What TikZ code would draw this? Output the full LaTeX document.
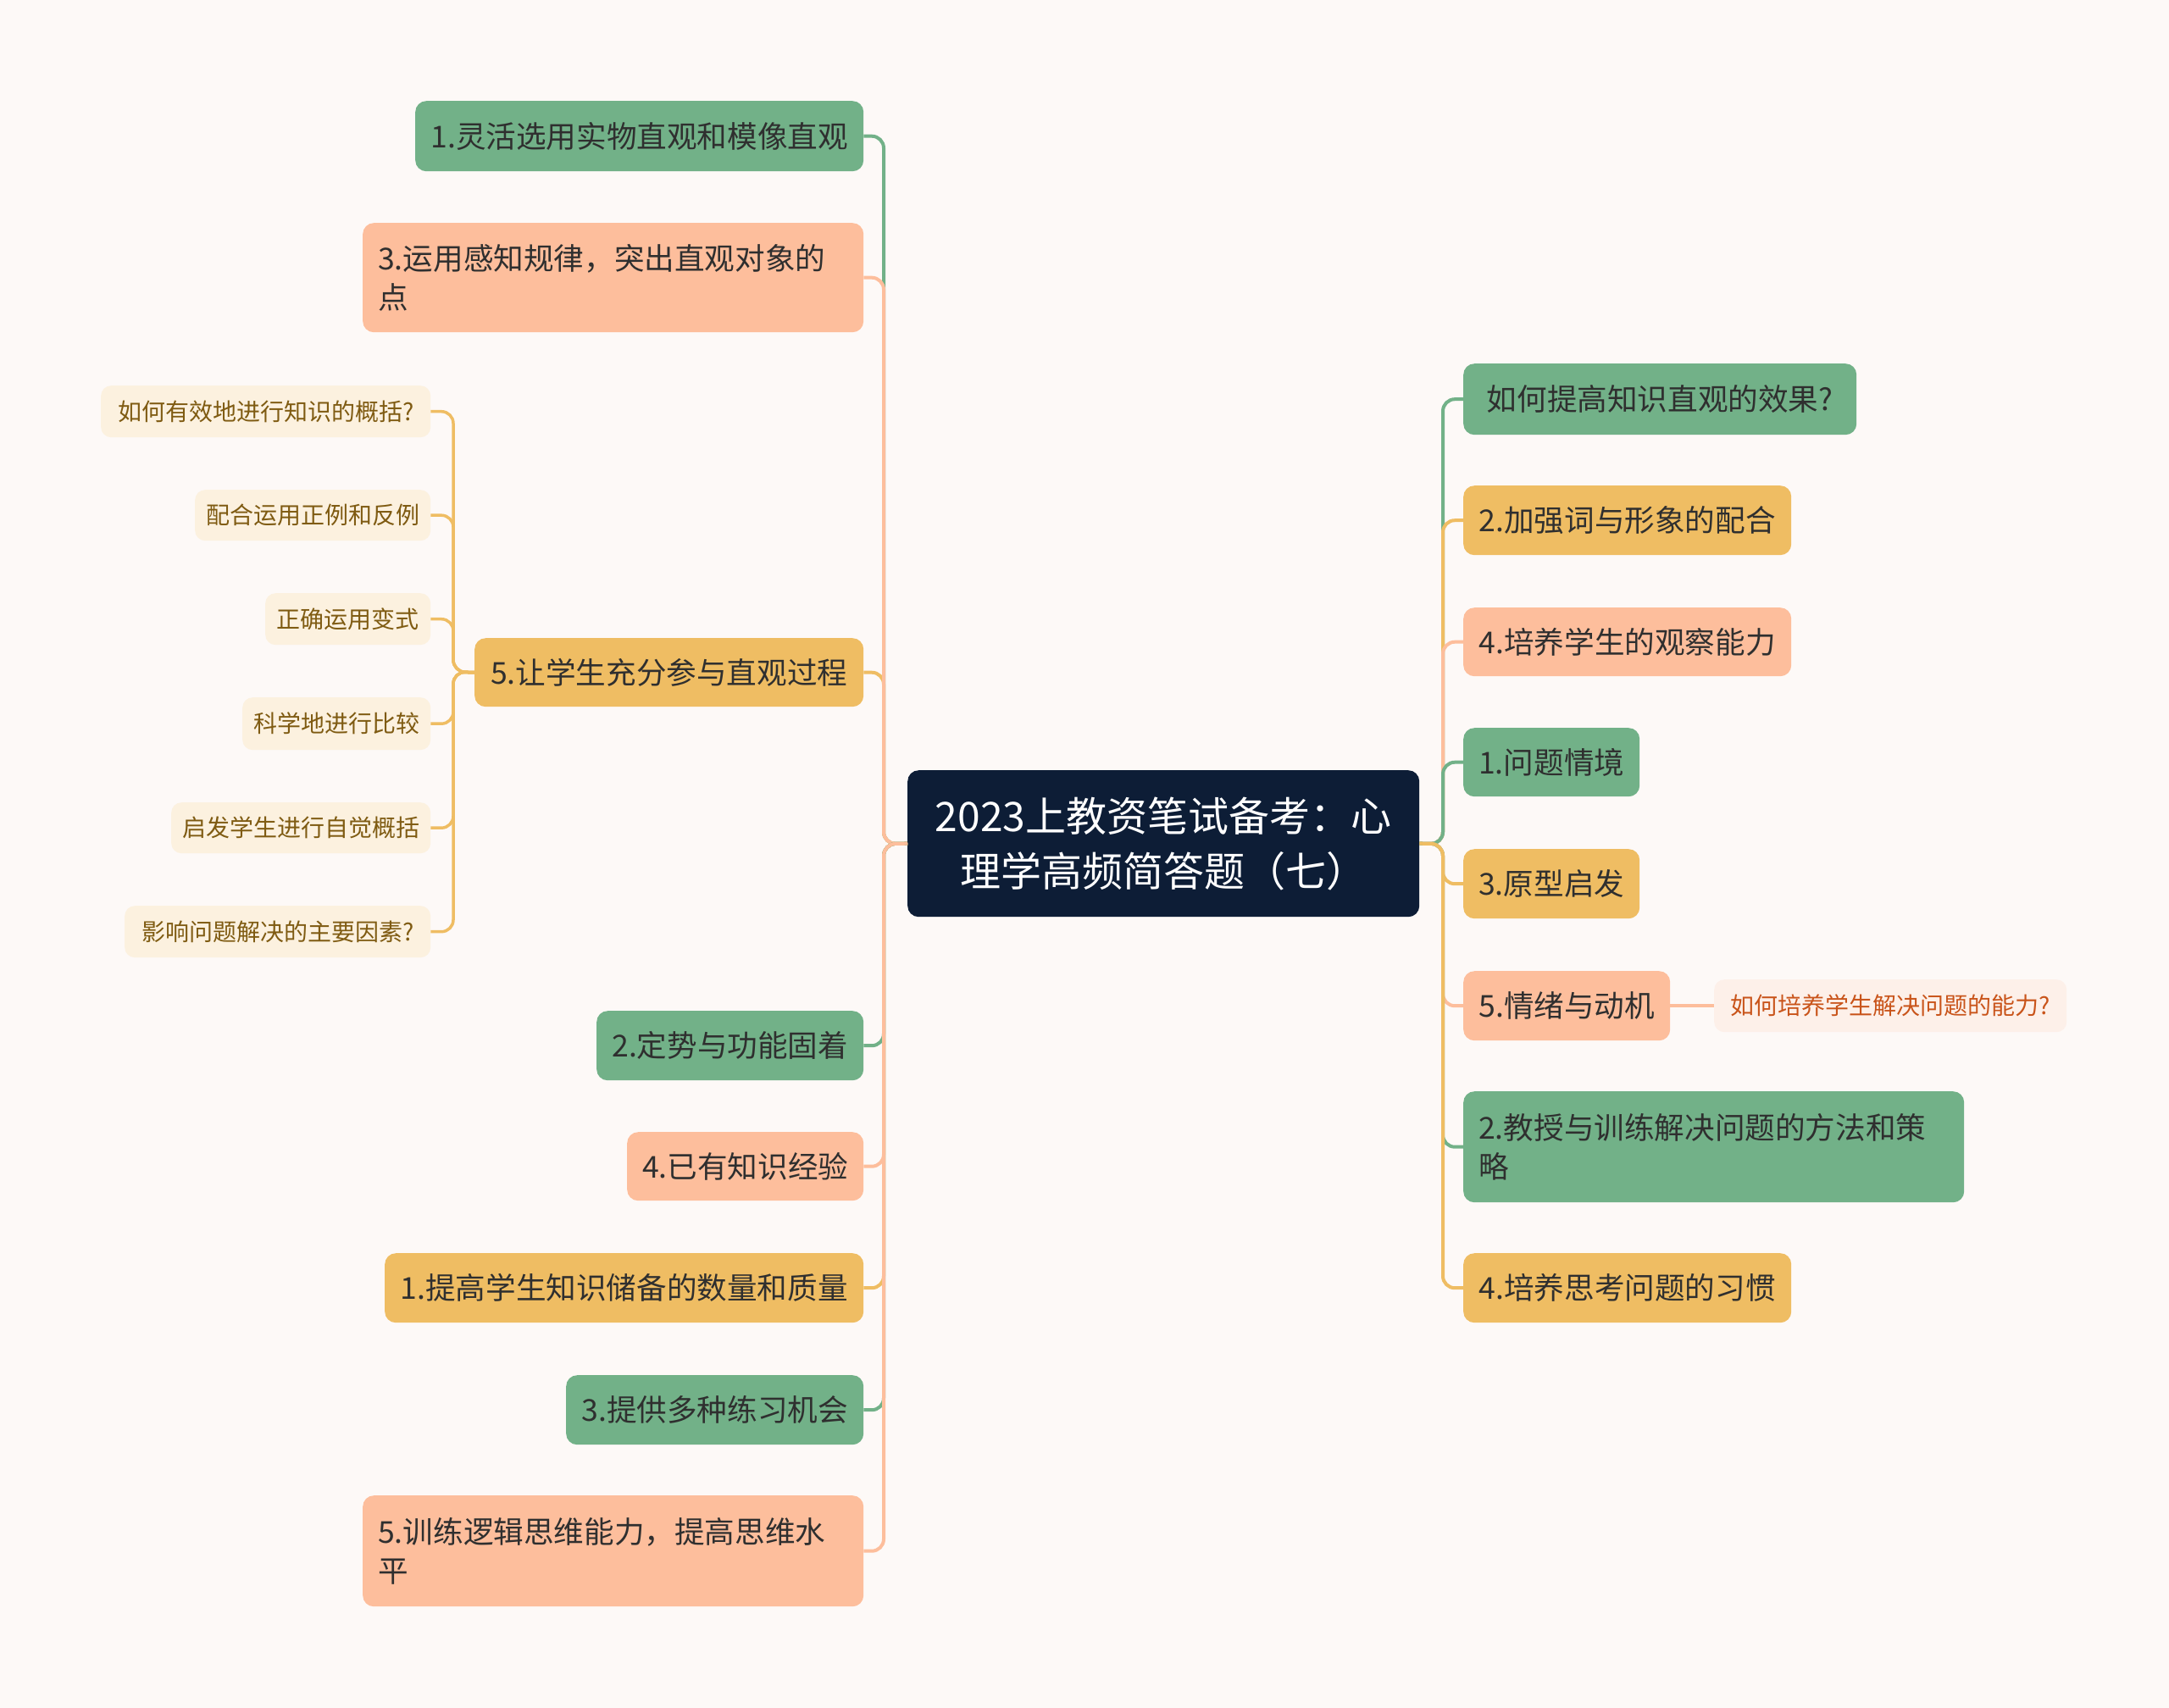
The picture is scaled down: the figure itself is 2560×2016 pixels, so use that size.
\documentclass[tikz,border=0pt]{standalone}
\usepackage{fontspec}
\setmainfont{Noto Sans CJK SC}
\definecolor{bg}{HTML}{FDF9F7}
\definecolor{cgreen}{HTML}{72B188}
\definecolor{cyellow}{HTML}{EFBD63}
\definecolor{csalmon}{HTML}{FDBE9C}
\definecolor{croot}{HTML}{0D1D36}
\definecolor{ctxt}{HTML}{2F2F2F}
\definecolor{lightY}{HTML}{FCF1DF}
\definecolor{lightS}{HTML}{FDF0E9}
\definecolor{subY}{HTML}{7F5B12}
\definecolor{subS}{HTML}{C9541A}
\begin{document}
\begin{tikzpicture}[x=1pt,y=-1pt,
  box/.style={rounded corners=13pt, inner sep=0pt, anchor=north west, text=ctxt,
    font=\fontsize{35.6}{46}\selectfont},
  gbox/.style={box, fill=cgreen},
  ybox/.style={box, fill=cyellow},
  sbox/.style={box, fill=csalmon},
  subbox/.style={rounded corners=12pt, inner sep=0pt, anchor=north west,
    font=\fontsize{28}{34}\selectfont},
  ysub/.style={subbox, fill=lightY, text=subY},
  ssub/.style={subbox, fill=lightS, text=subS},
  conn/.style={draw=#1, line width=4pt, rounded corners=14pt},
]
\fill[bg] (0,0) rectangle (2560,2016);
\useasboundingbox (0,0) rectangle (2560,2016);

% root
\node[rounded corners=13pt, inner sep=0pt, anchor=north west, fill=croot, text=white,
  minimum width=604, minimum height=173, align=center,
  font=\fontsize{48}{65}\selectfont] (root) at (1071,909)
  {2023上教资笔试备考：心\\理学高频简答题（七）};

% left main branches
\node[gbox, minimum width=529, minimum height=83] (L1) at (490,119) {1.灵活选用实物直观和模像直观};
\node[sbox, minimum width=591, minimum height=129, text width=555, align=left] (L2) at (428,263)
  {3.运用感知规律，突出直观对象的\\点};
\node[ybox, minimum width=459, minimum height=81] (L3) at (560,753) {5.让学生充分参与直观过程};
\node[gbox, minimum width=315, minimum height=82] (L4) at (704,1193) {2.定势与功能固着};
\node[sbox, minimum width=279, minimum height=81] (L5) at (740,1336) {4.已有知识经验};
\node[ybox, minimum width=565, minimum height=82] (L6) at (454,1479) {1.提高学生知识储备的数量和质量};
\node[gbox, minimum width=351, minimum height=82] (L7) at (668,1623) {3.提供多种练习机会};
\node[sbox, minimum width=591, minimum height=131, text width=555, align=left] (L8) at (428,1765)
  {5.训练逻辑思维能力，提高思维水\\平};

% sub-children of L3
\node[ysub, minimum width=389, minimum height=61] (La) at (119,455) {如何有效地进行知识的概括?};
\node[ysub, minimum width=278, minimum height=60] (Lb) at (230,578) {配合运用正例和反例};
\node[ysub, minimum width=195, minimum height=61] (Lc) at (313,700) {正确运用变式};
\node[ysub, minimum width=222, minimum height=62] (Ld) at (286,823) {科学地进行比较};
\node[ysub, minimum width=306, minimum height=60] (Le) at (202,947) {启发学生进行自觉概括};
\node[ysub, minimum width=361, minimum height=61] (Lf) at (147,1069) {影响问题解决的主要因素?};

% right main branches
\node[gbox, minimum width=464, minimum height=84] (R1) at (1727,429) {如何提高知识直观的效果?};
\node[ybox, minimum width=387, minimum height=82] (R2) at (1727,573) {2.加强词与形象的配合};
\node[sbox, minimum width=387, minimum height=81] (R3) at (1727,717) {4.培养学生的观察能力};
\node[gbox, minimum width=208, minimum height=81] (R4) at (1727,859) {1.问题情境};
\node[ybox, minimum width=208, minimum height=82] (R5) at (1727,1002) {3.原型启发};
\node[sbox, minimum width=244, minimum height=82] (R6) at (1727,1146) {5.情绪与动机};
\node[ssub, minimum width=416, minimum height=62] (R6c) at (2023,1156) {如何培养学生解决问题的能力?};
\node[gbox, minimum width=591, minimum height=131, text width=555, align=left] (R7) at (1727,1288)
  {2.教授与训练解决问题的方法和策\\略};
\node[ybox, minimum width=387, minimum height=82] (R8) at (1727,1479) {4.培养思考问题的习惯};

% left connectors
\coordinate (sl) at (1043,996);
\draw[conn=cgreen]  (root.west) -- (sl) |- (L1.east);
\draw[conn=cyellow] (root.west) -- (sl) |- (L3.east);
\draw[conn=csalmon] (root.west) -- (sl) |- (L2.east);
\draw[conn=cgreen]  (root.west) -- (sl) |- (L4.east);
\draw[conn=csalmon] (root.west) -- (sl) |- (L5.east);
\draw[conn=cyellow] (root.west) -- (sl) |- (L6.east);
\draw[conn=cgreen]  (root.west) -- (sl) |- (L7.east);
\draw[conn=csalmon] (root.west) -- (sl) |- (L8.east);

% L3 sub connectors
\coordinate (s3) at (535,793);
\foreach \c in {La,Lb,Lc,Ld,Le,Lf}
  \draw[conn=cyellow, line width=3.5pt] (L3.west) -- (s3) |- (\c.east);

% right connectors
\coordinate (sr) at (1703,996);
\draw[conn=cgreen]  (root.east) -- (sr) |- (R1.west);
\draw[conn=cyellow] (root.east) -- (sr) |- (R2.west);
\draw[conn=csalmon] (root.east) -- (sr) |- (R3.west);
\draw[conn=cgreen]  (root.east) -- (sr) |- (R4.west);
\draw[conn=cyellow] (root.east) -- (sr) |- (R5.west);
\draw[conn=csalmon] (root.east) -- (sr) |- (R6.west);
\draw[conn=cgreen]  (root.east) -- (sr) |- (R7.west);
\draw[conn=cyellow] (root.east) -- (sr) |- (R8.west);
\draw[conn=csalmon, line width=3.5pt] (R6.east) -- (R6c.west);
\end{tikzpicture}
\end{document}
